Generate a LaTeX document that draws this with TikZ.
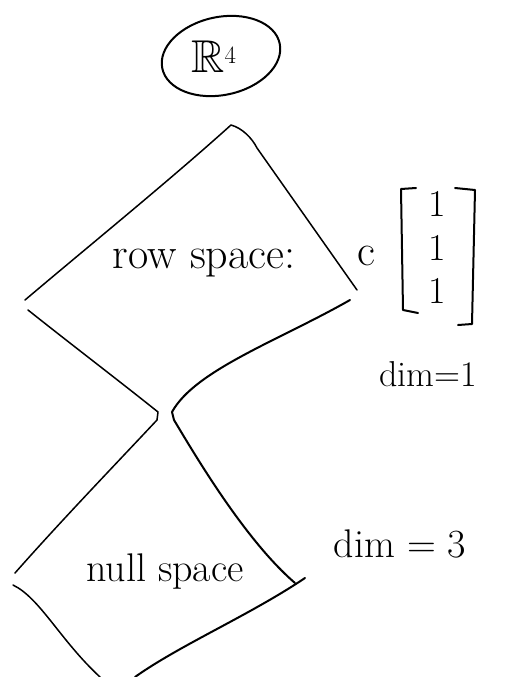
\documentclass[tikz,border=0pt]{standalone}
\usepackage{amssymb}
\begin{document}
\begin{tikzpicture}[x=1pt,y=1pt,
  stroke/.style={line width=2pt, line cap=round, line join=round},
  thin stroke/.style={line width=1.5pt, line cap=round, line join=round},
  lbl/.style={font=\fontsize{40}{48}\selectfont, inner sep=0pt},
  biglbl/.style={font=\fontsize{44}{52}\selectfont, inner sep=0pt},
  dimlbl/.style={font=\fontsize{36}{44}\selectfont, inner sep=0pt},
  onelbl/.style={font=\fontsize{38}{44}\selectfont, inner sep=0pt}]
\useasboundingbox (0,0) rectangle (532,-677);
% R^4 in an oval
\draw[stroke, rotate around={12:(221,-56)}] (221,-56) ellipse [x radius=60, y radius=39];
\node[font=\fontsize{46}{54}\selectfont, inner sep=0pt] (rfour) at (214,-57) {$\mathbb{R}^4$};
% upper diamond (row space)
\coordinate (uTop) at (231,-125);
\coordinate (uLeft) at (25,-300);
\coordinate (uRight) at (357,-290);
\draw[thin stroke] (uLeft) .. controls (90,-245) and (170,-180) .. (uTop)
  .. controls (242,-128) and (252,-138) .. (257,-148) -- (uRight);
% neck: two continuous strokes
\coordinate (nL1) at (28,-310);
\coordinate (nLm) at (158,-412);
\coordinate (nLb) at (15,-573);
\draw[thin stroke] (nL1) .. controls (72,-345) and (118,-380) .. (nLm)
  -- (157,-420) .. controls (112,-468) and (60,-522) .. (nLb);
\coordinate (nR1) at (350,-300);
\coordinate (nRm) at (172,-412);
\coordinate (nRb) at (295,-583);
\draw[stroke] (nR1) .. controls (280,-340) and (195,-370) .. (nRm)
  -- (174,-420) .. controls (195,-455) and (245,-540) .. (nRb);
% lower diamond bottom
\coordinate (bL1) at (13,-585);
\coordinate (bL2) at (100,-677);
\coordinate (bR1) at (305,-578);
\coordinate (bR2) at (135,-677);
\draw[thin stroke] (bL1) .. controls (40,-598) and (60,-640) .. (bL2);
\draw[stroke] (bR1) .. controls (250,-615) and (180,-645) .. (bR2);
% labels
\node[biglbl] (row) at (204,-263) {row space:};
\node[biglbl] (cc) at (366,-256) {c};
% vector [1 1 1]
\draw[stroke] (416,-188) -- (401,-189) -- (403,-310) -- (418,-313);
\draw[stroke] (455,-188) -- (475,-190) -- (472,-324) -- (458,-325);
\node[onelbl] (oneA) at (437,-204) {1};
\node[onelbl] (oneB) at (437,-248) {1};
\node[onelbl] (oneC) at (437,-291) {1};
\node[dimlbl] (dimone) at (428,-374) {dim=1};
\node[lbl] (null) at (165,-572) {null space};
\node[lbl] (dimthree) at (400,-544) {dim = 3};
\end{tikzpicture}
\end{document}
